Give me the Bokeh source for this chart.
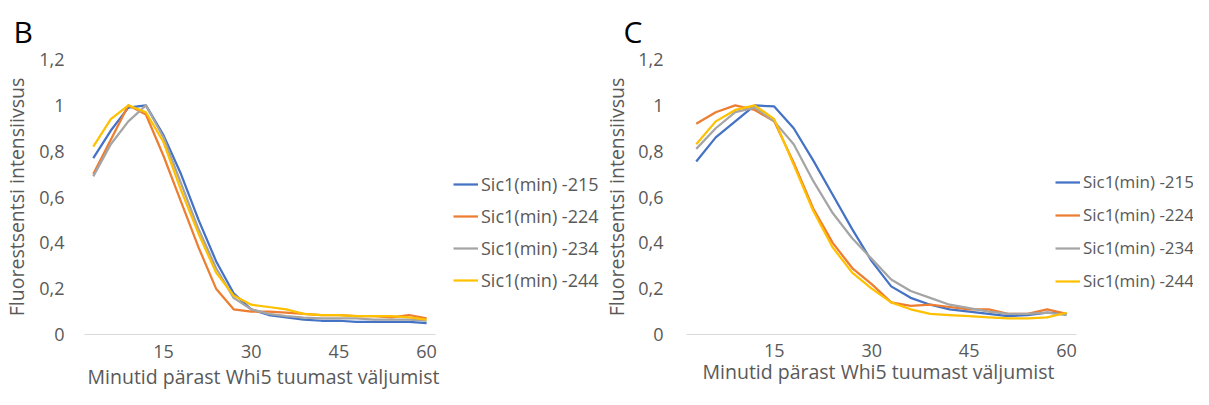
from bokeh.plotting import figure
from bokeh.models import Range1d, Legend, LegendItem, FixedTicker, Title
from bokeh.layouts import row
from bokeh.embed import file_html
from bokeh.resources import INLINE

# ---------------- data ----------------
minutes = [3, 6, 9, 12, 15, 18, 21, 24, 27, 30, 33, 36, 39, 42, 45, 48, 51, 54, 57, 60]
series_names = ["Sic1(min) -215", "Sic1(min) -224", "Sic1(min) -234", "Sic1(min) -244"]
colors = ["#4472C4", "#ED7D31", "#A5A5A5", "#FFC000"]

b_215 = [0.77, 0.89, 0.99, 1.00, 0.87, 0.70, 0.50, 0.32, 0.18, 0.11, 0.085, 0.075, 0.065, 0.06, 0.06, 0.055, 0.055, 0.055, 0.055, 0.05]
b_224 = [0.70, 0.85, 1.00, 0.96, 0.78, 0.58, 0.38, 0.20, 0.11, 0.10, 0.10, 0.095, 0.09, 0.085, 0.085, 0.08, 0.08, 0.075, 0.085, 0.07]
b_234 = [0.69, 0.83, 0.93, 1.00, 0.86, 0.66, 0.46, 0.29, 0.16, 0.11, 0.09, 0.08, 0.074, 0.07, 0.07, 0.07, 0.065, 0.065, 0.065, 0.06]
b_244 = [0.82, 0.94, 1.00, 0.97, 0.84, 0.63, 0.44, 0.27, 0.17, 0.13, 0.12, 0.11, 0.09, 0.085, 0.085, 0.08, 0.08, 0.08, 0.075, 0.065]

c_215 = [0.755, 0.86, 0.93, 1.00, 0.995, 0.90, 0.76, 0.61, 0.46, 0.32, 0.21, 0.16, 0.13, 0.11, 0.10, 0.09, 0.08, 0.085, 0.095, 0.09]
c_224 = [0.92, 0.97, 1.00, 0.98, 0.93, 0.75, 0.55, 0.40, 0.29, 0.22, 0.14, 0.125, 0.13, 0.12, 0.11, 0.11, 0.09, 0.09, 0.11, 0.09]
c_234 = [0.81, 0.90, 0.97, 0.99, 0.93, 0.83, 0.67, 0.53, 0.42, 0.33, 0.24, 0.19, 0.16, 0.13, 0.115, 0.10, 0.09, 0.09, 0.095, 0.085]
c_244 = [0.83, 0.93, 0.98, 1.00, 0.94, 0.74, 0.54, 0.38, 0.27, 0.20, 0.14, 0.11, 0.09, 0.085, 0.08, 0.075, 0.07, 0.07, 0.075, 0.095]

x_ticks = [15, 30, 45, 60]
y_ticks = [0, 0.2, 0.4, 0.6, 0.8, 1.0, 1.2]
y_tick_labels = ["0", "0,2", "0,4", "0,6", "0,8", "1", "1,2"]
x_title = "Minutid pärast Whi5 tuumast väljumist"
y_title = "Fluorestsentsi intensiivsus"

FONT = "Open Sans"
TXT = "#595959"
X_LO, X_HI = 1.5, 61.5   # category-style padding around 3..60


def make_panel(letter, data, width, height, bl, bt, axis_px, title_offset,
               legend_loc, legend_font, legend_spacing, ytick_standoff, ylabel_standoff,
               xtick_standoff, xtitle_offset, xtitle_standoff):
    frame_w = width - bl
    # frame reaches the figure's right edge (room for the legend);
    # the x axis line itself is bounded to X_LO..X_HI
    x_hi_frame = X_LO + (X_HI - X_LO) * frame_w / axis_px
    p = figure(width=width, height=height, output_backend="svg", toolbar_location=None,
               x_range=Range1d(X_LO, x_hi_frame), y_range=Range1d(0, 1.2),
               min_border_left=bl, min_border_right=0, min_border_top=bt, min_border_bottom=10,
               title=letter)
    p.title.text_font = FONT
    p.title.text_font_size = "30px"
    p.title.text_font_style = "normal"
    p.title.text_color = "#000000"
    p.title.align = "left"
    p.title.offset = title_offset
    p.title.standoff = 16
    p.outline_line_color = None
    p.xgrid.visible = False
    p.ygrid.visible = False
    p.background_fill_color = "white"
    p.border_fill_color = "white"

    # x axis
    xa = p.xaxis[0]
    xa.bounds = (X_LO, X_HI)
    xa.ticker = FixedTicker(ticks=x_ticks)
    xa.axis_line_color = "#D9D9D9"
    xa.axis_line_width = 1
    xa.major_tick_line_color = None
    xa.minor_tick_line_color = None
    xa.major_tick_out = 0
    xa.minor_tick_out = 0
    xa.major_tick_in = 0
    xa.minor_tick_in = 0
    xa.major_label_text_font = FONT
    xa.major_label_text_font_size = "18px"
    xa.major_label_text_color = TXT
    xa.major_label_standoff = xtick_standoff

    # x axis title under the axis span
    xt = Title(text=x_title, align="left", offset=xtitle_offset, standoff=xtitle_standoff)
    xt.text_font = FONT
    xt.text_font_size = "19.5px"
    xt.text_font_style = "normal"
    xt.text_color = TXT
    p.add_layout(xt, "below")

    # y axis
    ya = p.yaxis[0]
    ya.ticker = FixedTicker(ticks=y_ticks)
    ya.major_label_overrides = {t: l for t, l in zip(y_ticks, y_tick_labels)}
    ya.axis_line_color = None
    ya.major_tick_line_color = None
    ya.minor_tick_line_color = None
    ya.major_tick_out = 0
    ya.minor_tick_out = 0
    ya.major_tick_in = 0
    ya.minor_tick_in = 0
    ya.major_label_text_font = FONT
    ya.major_label_text_font_size = "18px"
    ya.major_label_text_color = TXT
    ya.major_label_standoff = ytick_standoff
    ya.axis_label = y_title
    ya.axis_label_text_font = FONT
    ya.axis_label_text_font_size = "19.5px"
    ya.axis_label_text_font_style = "normal"
    ya.axis_label_text_color = TXT
    ya.axis_label_standoff = ylabel_standoff

    items = []
    for name, ys, c in zip(series_names, data, colors):
        r = p.line(minutes, ys, line_color=c, line_width=2.25, line_join="round")
        items.append(LegendItem(label=name, renderers=[r]))

    lg = Legend(items=items, location=legend_loc)
    lg.label_text_font = FONT
    lg.label_text_font_size = legend_font
    lg.label_text_color = TXT
    lg.glyph_width = 25
    lg.glyph_height = 20
    lg.label_height = 20
    lg.label_standoff = 3
    lg.spacing = legend_spacing
    lg.padding = 0
    lg.margin = 0
    lg.border_line_color = None
    lg.background_fill_alpha = 0
    p.add_layout(lg)
    return p


pB = make_panel("B", [b_215, b_224, b_234, b_244], 600, 389, 75, 52, 357, -71,
                (369, 42), "18px", 8, 20, 6, 10, 3, 0)
pC = make_panel("C", [c_215, c_224, c_234, c_244], 593, 389, 78, 52, 396, -63,
                (369, 42), "17px", 10, 23, 5, 9, 16, -8)

layout = row(pB, pC)
open("out.html", "w").write(file_html(layout, INLINE))
